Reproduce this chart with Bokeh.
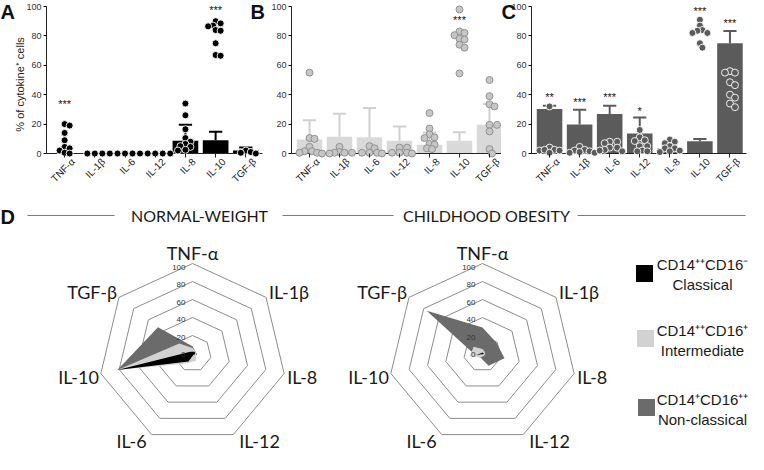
import math
from bokeh.plotting import figure
from bokeh.models import Range1d, FixedTicker
from bokeh.layouts import row, column
from bokeh.embed import file_html
from bokeh.resources import INLINE
from bokeh.core.properties import value

# ---------------- data ----------------
cytokines = ["TNF-α", "IL-1β", "IL-6", "IL-12", "IL-8", "IL-10", "TGF-β"]
y_ticks = [0, 20, 40, 60, 80, 100]
y_title = "% of cytokine⁺ cells"

# Panel A (CD14++CD16- classical)
a_bar = [0, 0, 0, 0, 8.6, 9.0, 2.0]
a_err = [0, 0, 0, 0, 19.5, 14.8, 4.0]
a_dots = [
    [20, 19, 14, 9, 4.5, 3.5, 2, 0.5, 0],
    [0, 0, 0, 0],
    [0, 0, 0, 0],
    [0, 0, 0, 0],
    [34, 26, 16.5, 10.5, 8, 6.5, 5, 4.5, 2.5, 2],
    [90, 88.5, 87, 86.5, 84, 83.5, 75, 67, 66.5],
    [2, 1, 0.5, 0],
]
a_sig_cat = [0, 5]
a_sig_y = [33.5, 97.5]
a_sig_txt = ["***", "***"]

# Panel B (CD14++CD16+ intermediate)
b_bar = [9.5, 11.4, 11.1, 8.6, 5.9, 8.6, 19.5]
b_err = [22.7, 27.0, 31.0, 18.4, 14.3, 14.5, 33.6]
b_dots = [
    [55, 10.5, 10, 4.5, 1.5, 1.5, 0.5, 0.5, 0],
    [4.5, 1, 0.5, 0.5, 0.5, 0],
    [5, 3.5, 0.5, 0.5, 0.5, 0],
    [4, 4, 0.5, 0.5, 0.5, 0],
    [27.5, 17, 13, 11, 10.5, 6.5, 6, 3.5, 3],
    [98, 83, 82, 80.5, 78, 77.5, 74, 72, 54.5],
    [50, 39, 33.5, 32, 19.5, 19.5, 15, 3, 0],
]
b_sig_cat = [5]
b_sig_y = [90.5]
b_sig_txt = ["***"]

# Panel C (CD14+CD16++ non-classical)
c_bar = [30.2, 19.8, 26.8, 13.6, 3.4, 8.4, 75.0]
c_err = [32.5, 29.8, 32.5, 24.5, 5.0, 9.8, 83.4]
c_dots = [
    [32, 4, 2.5, 2, 2, 2.5, 0.5],
    [4.5, 2.5, 2, 1.5, 1, 0.5, 0.5],
    [8, 8, 7, 4, 4, 2.5, 2, 1.5],
    [16, 11, 9, 8.5, 5, 5, 2, 1.5, 1.5],
    [9.5, 8, 7, 5, 3.5, 3.5, 2, 1.5, 1],
    [91, 87, 84, 83.5, 82, 82, 75, 72],
    [56, 55, 55, 48.5, 46.5, 40, 38, 34, 31.5],
]
c_sig_cat = [0, 1, 2, 3, 5, 6]
c_sig_y = [38.5, 34.8, 38.2, 29.0, 97.0, 88.6]
c_sig_txt = ["**", "***", "***", "*", "***", "***"]

# Panel D radar (axes clockwise from top)
radar_axes = ["TNF-α", "IL-1β", "IL-8", "IL-12", "IL-6", "IL-10", "TGF-β"]
ring_levels = [0, 20, 40, 60, 80, 100]
nw_classical = [2, 3, 3, 2, 10, 82, 3]
nw_intermediate = [6, 4, 4, 9, 12, 82, 18]
nw_nonclassical = [8, 4, 5, 4, 6, 82, 47]
ob_classical = [1, 1, 1.5, 1, 1, 7, 1]
ob_intermediate = [5, 3, 3, 3, 5, 14, 12]
ob_nonclassical = [29, 19, 24, 15, 5, 8, 76]
group_titles = ["NORMAL-WEIGHT", "CHILDHOOD OBESITY"]
legend_lines = [("CD14⁺⁺CD16⁻", "Classical"),
                ("CD14⁺⁺CD16⁺", "Intermediate"),
                ("CD14⁺CD16⁺⁺", "Non-classical")]

# ---------------- styles ----------------
FONT = "Liberation Sans"
BLACK = "#000000"
LIGHT = "#d9d9d9"
DARK = "#5b5b5b"
TOP_H = 192
PPU_Y = 147 / 100.0     # pixels per % on the bar panels
TOP_PAD = 6             # pixels above the 100 tick


def swarm_offsets(vals, ppu_x, ppu_y, d=7.0):
    order = sorted(range(len(vals)), key=lambda i: -vals[i])
    cands = [0.0]
    for k in range(1, 20):
        cands += [k * 2.5, -k * 2.5]
    placed = []
    offs = [0.0] * len(vals)
    lim = (0.72 * d) ** 2
    for i in order:
        yi = vals[i] * ppu_y
        for c in cands:
            if all((c - px) ** 2 + (yi - py) ** 2 >= lim for px, py in placed):
                break
        placed.append((c, yi))
        offs[i] = c / ppu_x
    return offs


def bar_panel(width, axis_px, ppu_x, axis_end, bars, errs, dots, sig_cat, sig_y, sig_txt,
              bar_color, err_color, dot_fill, dot_line, letters, ylabel=None):
    x_start = -0.6 - axis_px / ppu_x
    x_end = x_start + width / ppu_x
    y_end = 100 + TOP_PAD / PPU_Y
    y_start = y_end - TOP_H / PPU_Y
    p = figure(width=width, height=TOP_H, x_range=Range1d(x_start, x_end),
               y_range=Range1d(y_start, y_end), output_backend="svg", toolbar_location=None,
               min_border_left=0, min_border_right=0, min_border_top=0,
               min_border_bottom=0)
    p.outline_line_color = None
    p.grid.visible = False
    xs = list(range(len(cytokines)))
    p.vbar(x=xs, top=bars, bottom=0, width=0.85, fill_color=bar_color, line_color=None)
    ex, e0, e1 = [], [], []
    for i in xs:
        if errs[i] > bars[i]:
            ex.append(i); e0.append(bars[i]); e1.append(errs[i])
    p.segment(x0=ex, y0=e0, x1=ex, y1=e1, line_color=err_color, line_width=2)
    p.segment(x0=[x - 0.22 for x in ex], y0=e1, x1=[x + 0.22 for x in ex], y1=e1,
              line_color=err_color, line_width=2)
    # x axis line at 0
    p.segment(x0=[-0.6], y0=[0], x1=[axis_end], y1=[0], line_color="#222222", line_width=1)
    dx, dy = [], []
    for i in xs:
        offs = swarm_offsets(dots[i], ppu_x, PPU_Y)
        for v, o in zip(dots[i], offs):
            dx.append(i + o); dy.append(v)
    p.scatter(x=dx, y=dy, size=7, fill_color=dot_fill, line_color=dot_line, line_width=0.9)
    p.text(x=sig_cat, y=sig_y, text=sig_txt, text_align="center", text_baseline="middle",
           text_font=value(FONT), text_font_size="11px", text_color="#111111")
    # rotated category labels
    p.text(x=[i + 0.28 for i in xs], y=[-4.4] * len(xs), text=cytokines, angle=math.pi / 4,
           text_align="right", text_baseline="middle", text_font=value(FONT),
           text_font_size="10px", text_color="#222222")
    for txt, px in letters:
        p.text(x=[x_start + px / ppu_x], y=[y_end], text=[txt], text_align="left",
               text_baseline="top", text_font=value(FONT), text_font_size="20px",
               text_font_style="bold", text_color="#111111")
    if ylabel:
        p.text(x=[x_start + 19 / ppu_x], y=[47], text=[ylabel], angle=math.pi / 2,
               text_align="center", text_baseline="middle", text_font=value(FONT),
               text_font_size="11px", text_color="#222222")
    xa = p.xaxis[0]
    xa.fixed_location = 0
    xa.ticker = FixedTicker(ticks=xs)
    xa.major_label_overrides = {i: "" for i in xs}
    xa.major_tick_in = 0
    xa.major_tick_out = 4
    xa.major_tick_line_color = "#222222"
    xa.minor_tick_line_color = None
    xa.axis_line_color = None
    ya = p.yaxis[0]
    ya.fixed_location = -0.6
    ya.ticker = FixedTicker(ticks=y_ticks)
    ya.bounds = (0, 100)
    ya.major_label_text_font = FONT
    ya.major_label_text_font_size = "9px"
    ya.major_label_text_color = "#333333"
    ya.major_tick_in = 0
    ya.major_tick_out = 3
    ya.major_label_standoff = 2
    ya.minor_tick_line_color = None
    ya.axis_line_color = "#222222"
    return p


fA = bar_panel(270, 46, 30.2, 6.55, a_bar, a_err, a_dots, a_sig_cat, a_sig_y, a_sig_txt,
               BLACK, BLACK, BLACK, "#ffffff", [("A", 0), ("B", 250)], ylabel=y_title)
fB = bar_panel(231, 21, 30.0, 6.4, b_bar, b_err, b_dots, b_sig_cat, b_sig_y, b_sig_txt,
               LIGHT, "#d0d0d0", "#c6c6c6", "#8a8a8a", [])
fC = bar_panel(247, 30, 30.07, 6.55, c_bar, c_err, c_dots, c_sig_cat, c_sig_y, c_sig_txt,
               DARK, DARK, DARK, "#ffffff", [("C", 0)])

# ---------------- panel D ----------------
DW, DH = 748, 454 - TOP_H
fD = figure(width=DW, height=DH, x_range=Range1d(0, DW), y_range=Range1d(DH, 0),
            x_axis_type=None, y_axis_type=None, output_backend="svg", toolbar_location=None,
            min_border_left=0, min_border_right=0, min_border_top=0, min_border_bottom=0)
fD.outline_line_color = None
fD.grid.visible = False

RX, RY = 94, 90
CY = 161
centers = [192, 482]
n = len(radar_axes)
ang = [2 * math.pi * i / n for i in range(n)]


def pt(cx, v, i):
    return (cx + v / 100.0 * RX * math.sin(ang[i]),
            CY - v / 100.0 * RY * math.cos(ang[i]))


LABEL_FONT = "Lato"
for cx, series in zip(centers, [
        (nw_nonclassical, nw_intermediate, nw_classical),
        (ob_nonclassical, ob_intermediate, ob_classical)]):
    rx, ry = [], []
    for lv in ring_levels[1:]:
        pts = [pt(cx, lv, i) for i in range(n)] + [pt(cx, lv, 0)]
        rx.append([q[0] for q in pts]); ry.append([q[1] for q in pts])
    fD.multi_line(xs=rx, ys=ry, line_color="#8c8c8c", line_width=1)
    for vals, col in zip(series, ["#6b6b6b", "#d2d2d2", "#000000"]):
        pts = [pt(cx, v, i) for i, v in enumerate(vals)]
        fD.patch(x=[q[0] for q in pts], y=[q[1] for q in pts], fill_color=col,
                 line_color=None)
    fD.text(x=[cx - 7] * len(ring_levels),
            y=[CY - lv / 100.0 * RY * 0.97 + 1 for lv in ring_levels],
            text=[str(lv) for lv in ring_levels], text_align="right", text_baseline="middle",
            text_font=value(FONT), text_font_size="8px", text_color="#333333")
    for i, name in enumerate(radar_axes):
        ux, uy = math.sin(ang[i]), -math.cos(ang[i])
        vx, vy = pt(cx, 100, i)
        if abs(ux) < 0.1:
            al, dxl = "center", 0
        elif ux > 0:
            al, dxl = "left", (3 if uy < 0.5 else 6)
        else:
            al, dxl = "right", (-2 if uy < 0.5 else -5)
        if uy < -0.9:
            dyl = -11
        elif uy < 0:
            dyl = -5
        elif uy < 0.5:
            dyl = 3
        else:
            dyl = 6
        fD.text(x=[vx + dxl], y=[vy + dyl], text=[name], text_align=al,
                text_baseline="middle", text_font=value(LABEL_FONT),
                text_font_size="18px", text_color="#1a1a1a")

TY = 23
fD.text(x=[199, 486], y=[TY, TY], text=group_titles, text_align="center",
        text_baseline="middle", text_font=value(LABEL_FONT), text_font_size="16px",
        text_color="#1a1a1a")
fD.segment(x0=[27, 282, 577], y0=[TY] * 3, x1=[114, 393, 745], y1=[TY] * 3,
           line_color="#7a7a7a", line_width=1)
fD.text(x=[0], y=[TY + 1], text=["D"], text_align="left", text_baseline="middle",
        text_font=value(FONT), text_font_size="20px", text_font_style="bold",
        text_color="#111111")

leg_cols = ["#000000", "#d2d2d2", "#6b6b6b"]
leg_y = [72, 138, 207]
fD.rect(x=[644, 645, 646], y=[81, 146, 215], width=17, height=17,
        fill_color=leg_cols, line_color=None)
for (l1, l2), yy in zip(legend_lines, leg_y):
    fD.text(x=[702, 702], y=[yy, yy + 20], text=[l1, l2], text_align="center",
            text_baseline="middle", text_font=value(FONT), text_font_size="15px",
            text_color="#1a1a1a")

layout = column(row(fA, fB, fC), fD)
open("out.html", "w").write(file_html(layout, INLINE))
